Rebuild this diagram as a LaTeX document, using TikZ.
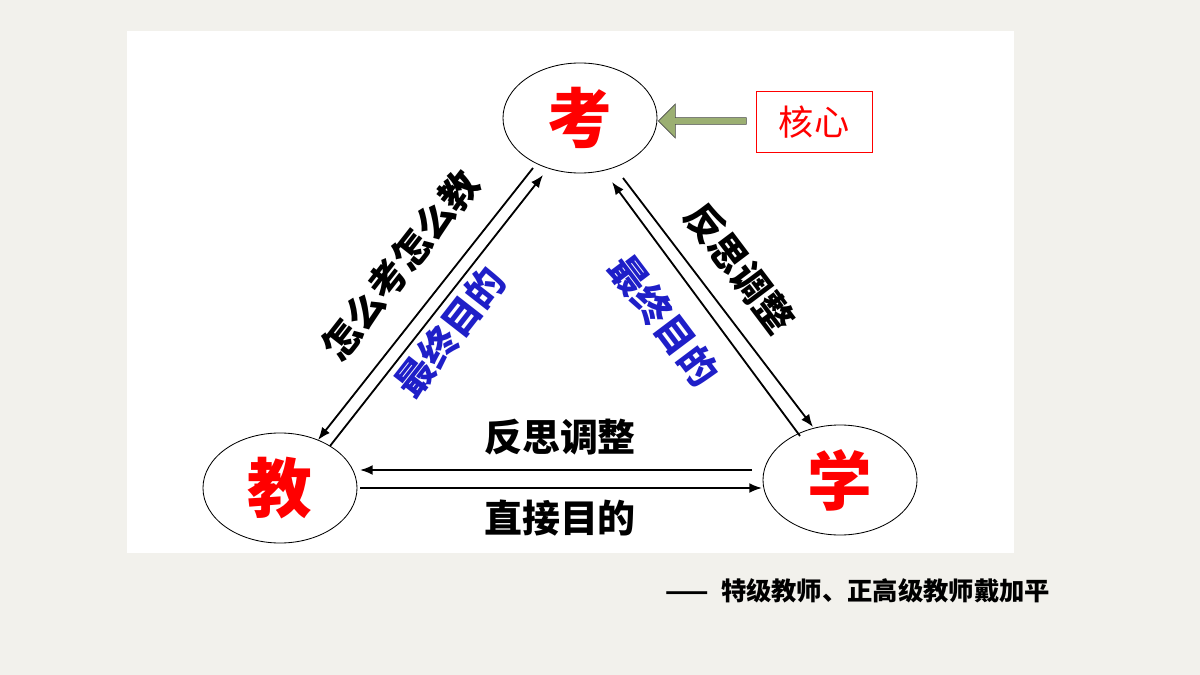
\documentclass[tikz,border=0pt]{standalone}
\usepackage{fontspec}
\setmainfont{Noto Sans CJK SC}
\usetikzlibrary{positioning,arrows.meta,shapes.arrows,shapes.geometric}
\definecolor{bgcol}{HTML}{F2F1EC}
\definecolor{kblue}{HTML}{1F1FC8}
\definecolor{arrgreen}{HTML}{9BAF72}
\tikzset{
    x=0.025cm,
    y=-0.025cm,
    vertex/.style = {
        draw,
        shape=ellipse,
        minimum width=3.85cm,
        minimum height=2.75cm,
        line width=0.6pt,
        text=red,
        font=\bfseries\fontsize{46}{46}\selectfont
    },
    label/.style = {
        font=\bfseries\fontsize{27}{27}\selectfont
    },
    conn/.style = {
        draw,
        line width=1.3pt,
        -{Latex[length=9pt,width=7pt]}
    },
    >=latex,
}
\begin{document}
\begin{tikzpicture}
    \fill[bgcol] (0,0) rectangle (1200,675);
    \fill[white] (127,31) rectangle (1014,553);
    \useasboundingbox (0,0) rectangle (1200,675);

    \node[vertex] (kao) at (580,118) {考};
    \node[vertex] (jiao) at (280,488) {教};
    \node[vertex] (xue) at (840,480) {学};
    \node[draw=red, text=red, minimum width=2.9cm, minimum height=1.52cm,
        font=\fontsize{25}{25}\selectfont] (core) at (814,122) {核心};
    \node[single arrow, draw=black!70, fill=arrgreen, shape border rotate=180,
        minimum height=2.2cm, minimum width=0.85cm, single arrow head extend=5pt,
        inner sep=1pt] (corearr) at (704,121) {};

    % left side
    \coordinate (l1a) at (533,168);
    \coordinate (l1b) at (318,440);
    \coordinate (l2a) at (330,446);
    \coordinate (l2b) at (543,175);
    \path[conn] (l1a) -- (l1b);
    \path[conn] (l2a) -- (l2b);
    % right side
    \coordinate (r1a) at (623,178);
    \coordinate (r1b) at (813,427);
    \coordinate (r2a) at (800,436);
    \coordinate (r2b) at (612,182);
    \path[conn] (r1a) -- (r1b);
    \path[conn] (r2a) -- (r2b);
    % bottom
    \coordinate (b1a) at (752,470);
    \coordinate (b1b) at (360,470);
    \coordinate (b2a) at (360,488);
    \coordinate (b2b) at (762,488);
    \path[conn] (b1a) -- (b1b);
    \path[conn] (b2a) -- (b2b);

    \node[label, rotate=52] (howtest) at (400,265) {怎么考怎么教};
    \node[label, rotate=52, text=kblue] (goall) at (450,332) {最终目的};
    \node[label, rotate=-53] (reflr) at (740,268) {反思调整};
    \node[label, rotate=-53, text=kblue] (goalr) at (664,320) {最终目的};
    \node[label] (reflb) at (560,437) {反思调整};
    \node[label] (directb) at (560,518) {直接目的};

    \node[font=\bfseries\fontsize{18}{18}\selectfont] (quote) at (858,591)
        {——\ \ 特级教师、正高级教师戴加平};
\end{tikzpicture}
\end{document}
